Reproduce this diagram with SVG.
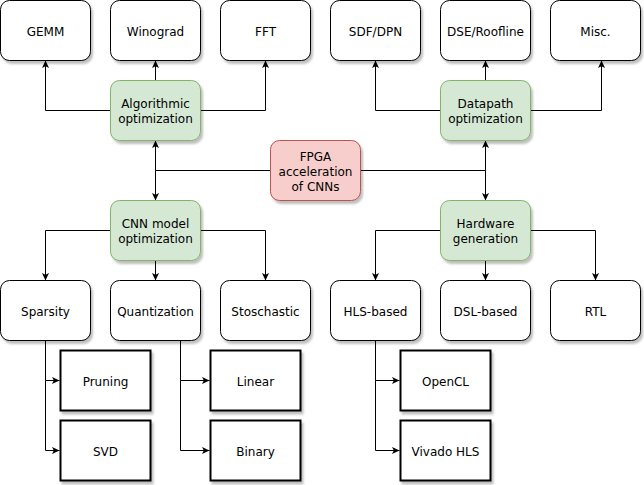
<svg xmlns="http://www.w3.org/2000/svg" width="644" height="485" viewBox="0 0 644 485">
<defs>
<filter id="sh" x="-10%" y="-10%" width="130%" height="130%">
<feDropShadow dx="2" dy="3" stdDeviation="1.2" flood-color="#000" flood-opacity="0.25"/>
</filter>
<marker id="arr" markerUnits="userSpaceOnUse" viewBox="0 0 8 8" markerWidth="8" markerHeight="8" refX="7.5" refY="4" orient="auto">
<path d="M0,0.5 L7.5,4 L0,7.5 L1.8,4 z" fill="#000"/>
</marker>
</defs>
<style>
.n{fill:#fff;stroke:#000;stroke-width:1;filter:url(#sh)}
.g{fill:#d5e8d4;stroke:#82b366;stroke-width:1;filter:url(#sh)}
.r{fill:#f8cecc;stroke:#b85450;stroke-width:1;filter:url(#sh)}
.s{fill:#fff;stroke:#000;stroke-width:2;filter:url(#sh)}
text{font-family:"DejaVu Sans",Verdana,sans-serif;font-size:12px;fill:#000;text-anchor:middle}
.c path{fill:none;stroke:#000;stroke-width:1;marker-end:url(#arr)}
</style>
<rect width="644" height="485" fill="#fff"/>
<g transform="translate(0.5,0.5)">
<g class="c" id="connectors">
<path d="M110,110 L45,110 L45,60"/>
<path d="M155,80 L155,60"/>
<path d="M200,110 L265,110 L265,60"/>
<path d="M440,110 L375,110 L375,60"/>
<path d="M485,80 L485,60"/>
<path d="M530,110 L601,110 L601,60"/>
<path d="M270,170 L155,170 L155,140"/>
<path d="M155,170 L155,200"/>
<path d="M360,170 L485,170 L485,140"/>
<path d="M485,170 L485,200"/>
<path d="M110,230 L45,230 L45,280"/>
<path d="M155,260 L155,280"/>
<path d="M200,230 L265,230 L265,280"/>
<path d="M440,230 L375,230 L375,280"/>
<path d="M485,260 L485,280"/>
<path d="M530,230 L595,230 L595,280"/>
<path d="M45,340 L45,380 L59,380"/>
<path d="M45,380 L45,450 L59,450"/>
<path d="M180,340 L180,380 L209,380"/>
<path d="M180,380 L180,450 L209,450"/>
<path d="M375,340 L375,380 L399,380"/>
<path d="M375,380 L375,450 L399,450"/>
</g>
<g id="gemm"><rect class="n" x="0" y="0" width="90" height="60" rx="9"/><text x="45" y="35">GEMM</text></g>
<g id="winograd"><rect class="n" x="110" y="0" width="90" height="60" rx="9"/><text x="155" y="35">Winograd</text></g>
<g id="fft"><rect class="n" x="220" y="0" width="90" height="60" rx="9"/><text x="265" y="35">FFT</text></g>
<g id="sdf"><rect class="n" x="330" y="0" width="90" height="60" rx="9"/><text x="375" y="35">SDF/DPN</text></g>
<g id="dse"><rect class="n" x="440" y="0" width="90" height="60" rx="9"/><text x="485" y="35">DSE/Roofline</text></g>
<g id="misc"><rect class="n" x="550" y="0" width="90" height="60" rx="9"/><text x="595" y="35">Misc.</text></g>
<g id="algo"><rect class="g" x="110" y="80" width="90" height="60" rx="9"/><text x="155" y="107">Algorithmic</text><text x="155" y="122">optimization</text></g>
<g id="datapath"><rect class="g" x="440" y="80" width="90" height="60" rx="9"/><text x="485" y="107">Datapath</text><text x="485" y="122">optimization</text></g>
<g id="fpga"><rect class="r" x="270" y="140" width="90" height="60" rx="9"/><text x="315" y="160">FPGA</text><text x="315" y="175">acceleration</text><text x="315" y="190">of CNNs</text></g>
<g id="cnn"><rect class="g" x="110" y="200" width="90" height="60" rx="9"/><text x="155" y="227">CNN model</text><text x="155" y="242">optimization</text></g>
<g id="hwgen"><rect class="g" x="440" y="200" width="90" height="60" rx="9"/><text x="485" y="227">Hardware</text><text x="485" y="242">generation</text></g>
<g id="sparsity"><rect class="n" x="0" y="280" width="90" height="60" rx="9"/><text x="45" y="315">Sparsity</text></g>
<g id="quant"><rect class="n" x="110" y="280" width="90" height="60" rx="9"/><text x="155" y="315">Quantization</text></g>
<g id="stoch"><rect class="n" x="220" y="280" width="90" height="60" rx="9"/><text x="265" y="315">Stoschastic</text></g>
<g id="hls"><rect class="n" x="330" y="280" width="90" height="60" rx="9"/><text x="375" y="315">HLS-based</text></g>
<g id="dsl"><rect class="n" x="440" y="280" width="90" height="60" rx="9"/><text x="485" y="315">DSL-based</text></g>
<g id="rtl"><rect class="n" x="550" y="280" width="90" height="60" rx="9"/><text x="595" y="315">RTL</text></g>
<g id="pruning"><rect class="s" x="60" y="350" width="90" height="60"/><text x="105" y="385">Pruning</text></g>
<g id="svd"><rect class="s" x="60" y="420" width="90" height="60"/><text x="105" y="455">SVD</text></g>
<g id="linear"><rect class="s" x="210" y="350" width="90" height="60"/><text x="255" y="385">Linear</text></g>
<g id="binary"><rect class="s" x="210" y="420" width="90" height="60"/><text x="255" y="455">Binary</text></g>
<g id="opencl"><rect class="s" x="400" y="350" width="90" height="60"/><text x="445" y="385">OpenCL</text></g>
<g id="vivado"><rect class="s" x="400" y="420" width="90" height="60"/><text x="445" y="455">Vivado HLS</text></g>
</g>
</svg>
